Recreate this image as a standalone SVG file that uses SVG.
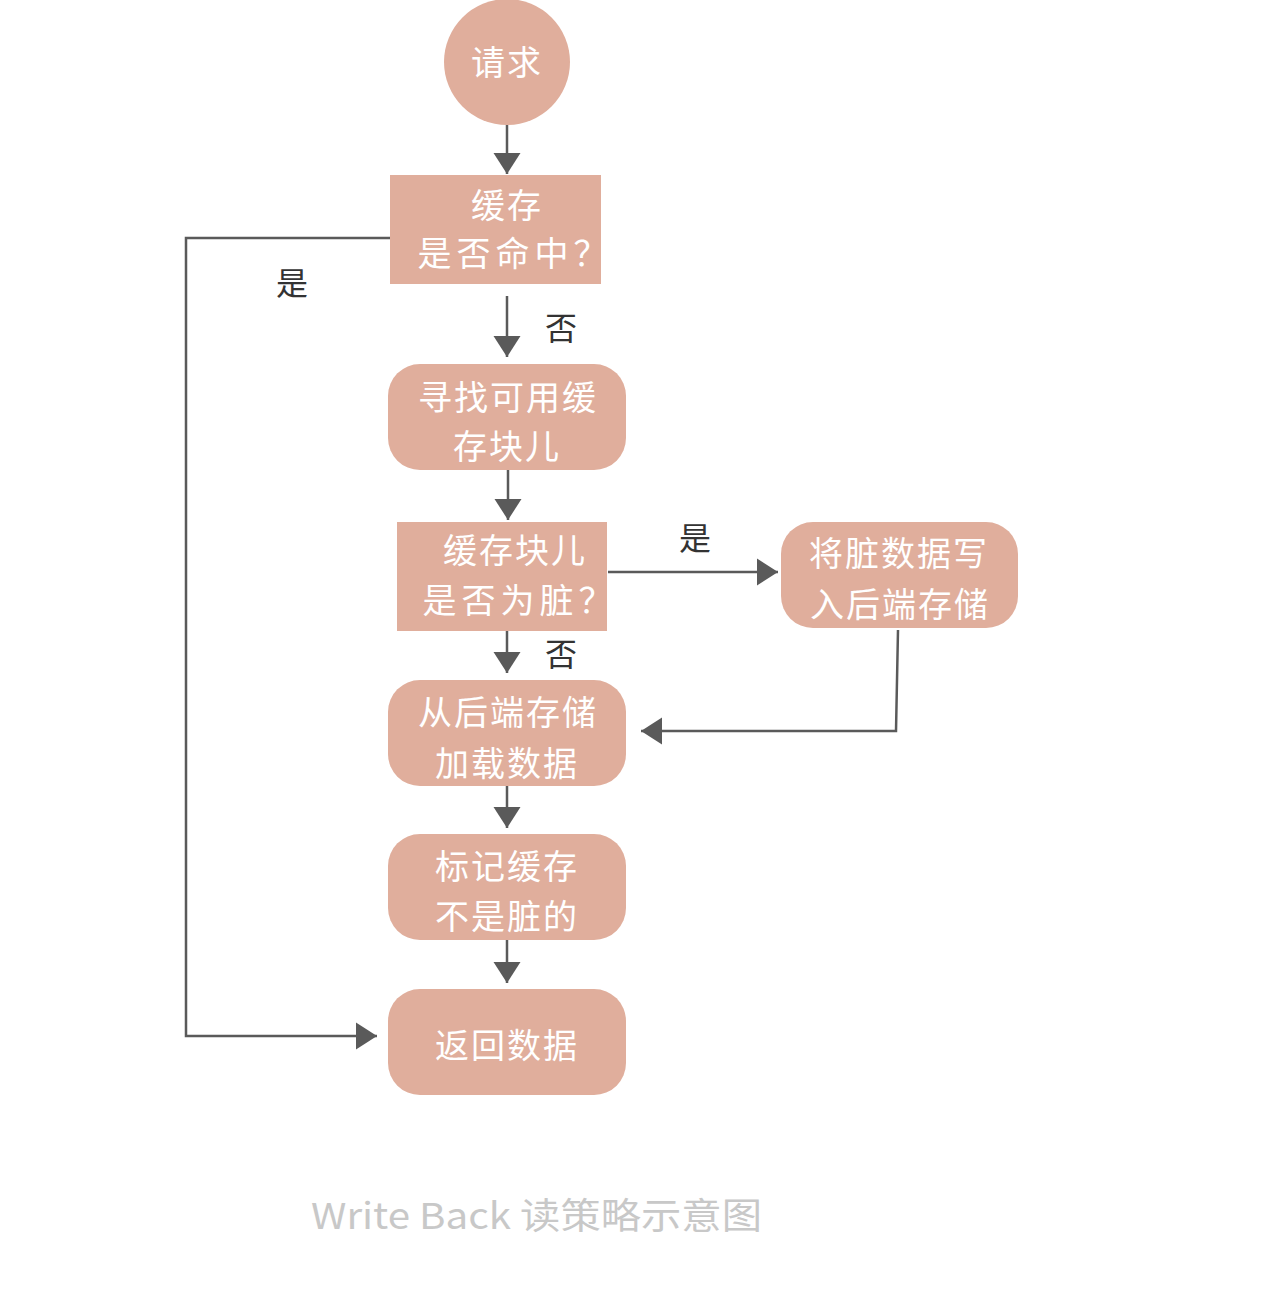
<svg xmlns="http://www.w3.org/2000/svg" width="1282" height="1316" viewBox="0 0 1282 1316">
<style>
.n{fill:#E0AE9C;}
.t{fill:#fff;font-family:"Noto Sans CJK SC","Noto Sans",sans-serif;font-size:34px;text-anchor:middle;dominant-baseline:central;letter-spacing:2px;}
.q{letter-spacing:5px;}
.l{fill:#333;font-family:"Noto Sans CJK SC",sans-serif;font-size:32px;text-anchor:middle;dominant-baseline:central;}
.c{fill:none;stroke:#5a5a5a;stroke-width:2.5;marker-end:url(#ah);}
.cap{fill:#c8c8c8;font-family:"Noto Sans CJK SC","Noto Sans",sans-serif;font-size:36px;dominant-baseline:central;}
</style>
<defs>
<marker id="ah" markerUnits="userSpaceOnUse" markerWidth="22" markerHeight="28" refX="21" refY="14" orient="auto">
<path d="M0,0.5 L21,14 L0,27.5 z" fill="#5a5a5a"/>
</marker>
</defs>
<rect width="1282" height="1316" fill="#fff"/>
<g id="connectors">
<path class="c" d="M507,124 L507,174"/>
<path class="c" d="M390,238 L186,238 L186,1036 L377,1036"/>
<path class="c" d="M507,296 L507,357"/>
<path class="c" d="M508,470 L508,520"/>
<path class="c" d="M608,572 L778,572"/>
<path class="c" d="M898,630 L896,731 L641,731"/>
<path class="c" d="M507,631 L507,673"/>
<path class="c" d="M507,786 L507,828"/>
<path class="c" d="M507,940 L507,983"/>
</g>
<g id="labels">
<text class="l" x="292" y="281">是</text>
<text class="l" x="561" y="326">否</text>
<text class="l" x="695" y="536">是</text>
<text class="l" x="561" y="652">否</text>
</g>
<g id="n-request">
<circle class="n" cx="507" cy="62" r="63"/>
<text class="t" x="507" y="60">请求</text>
</g>
<g id="n-hit">
<rect class="n" x="390" y="175" width="211" height="109"/>
<text class="t" x="507" y="203">缓存</text>
<text class="t q" x="515" y="251">是否命中？</text>
</g>
<g id="n-find">
<rect class="n" x="388" y="364" width="238" height="106" rx="32"/>
<text class="t" x="508" y="395">寻找可用缓</text>
<text class="t" x="507" y="444">存块儿</text>
</g>
<g id="n-dirty">
<rect class="n" x="397" y="522" width="210" height="109"/>
<text class="t" x="515" y="548">缓存块儿</text>
<text class="t q" x="520" y="598">是否为脏？</text>
</g>
<g id="n-write">
<rect class="n" x="781" y="522" width="237" height="106" rx="32"/>
<text class="t" x="899" y="551">将脏数据写</text>
<text class="t" x="900" y="602">入后端存储</text>
</g>
<g id="n-load">
<rect class="n" x="388" y="680" width="238" height="106" rx="32"/>
<text class="t" x="508" y="710">从后端存储</text>
<text class="t" x="507" y="761">加载数据</text>
</g>
<g id="n-mark">
<rect class="n" x="388" y="834" width="238" height="106" rx="32"/>
<text class="t" x="507" y="864">标记缓存</text>
<text class="t" x="507" y="914">不是脏的</text>
</g>
<g id="n-return">
<rect class="n" x="388" y="989" width="238" height="106" rx="32"/>
<text class="t" x="507" y="1043">返回数据</text>
</g>
<text class="cap" x="311" y="1213" textLength="451" lengthAdjust="spacingAndGlyphs">Write Back 读策略示意图</text>
</svg>
